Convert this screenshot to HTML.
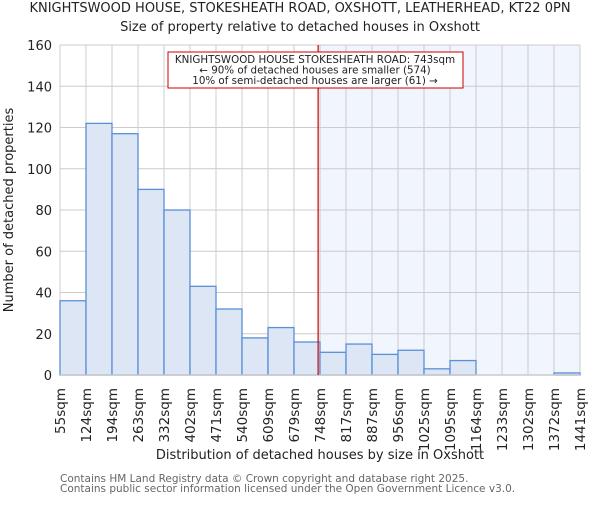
<!DOCTYPE html>
<html><head><meta charset="utf-8"><style>
body{margin:0;background:#fff;}
svg{font-family:"DejaVu Sans","Liberation Sans",sans-serif;}
</style></head><body>
<svg id="chart" width="600" height="500" xmlns="http://www.w3.org/2000/svg">
<text x="300" y="12" font-size="13" text-anchor="middle" fill="#222">KNIGHTSWOOD HOUSE, STOKESHEATH ROAD, OXSHOTT, LEATHERHEAD, KT22 0PN</text>
<text x="300" y="31" font-size="13" text-anchor="middle" fill="#222">Size of property relative to detached houses in Oxshott</text>
<g id="plot"></g>
<text transform="translate(13,210) rotate(-90)" font-size="13" text-anchor="middle" fill="#222">Number of detached properties</text>
<text x="320" y="459" font-size="13" text-anchor="middle" fill="#222">Distribution of detached houses by size in Oxshott</text>
<text x="60" y="482" font-size="10.5" fill="#666">Contains HM Land Registry data © Crown copyright and database right 2025.</text>
<text x="60" y="492" font-size="10.5" fill="#666">Contains public sector information licensed under the Open Government Licence v3.0.</text>
</svg>
<script>
const tickLabels=["55sqm","124sqm","194sqm","263sqm","332sqm","402sqm","471sqm","540sqm","609sqm","679sqm","748sqm","817sqm","887sqm","956sqm","1025sqm","1095sqm","1164sqm","1233sqm","1302sqm","1372sqm","1441sqm"];
const binEdges=[55,124,194,263,332,402,471,540,609,679,748,817,887,956,1025,1095,1164,1233,1302,1372,1441];
const counts=[36,122,117,90,80,43,32,18,23,16,11,15,10,12,3,7,0,0,0,1];
const yTicks=[0,20,40,60,80,100,120,140,160];
const propertySize=743;
const L=60,R=580,T=45,B=375,yMax=160;
const NS="http://www.w3.org/2000/svg";
const g=document.getElementById('plot');
function xIdx(i){return L+(R-L)*i/(binEdges.length-1);}
function xVal(v){for(let i=0;i<binEdges.length-1;i++){if(v<=binEdges[i+1]){return xIdx(i)+(v-binEdges[i])/(binEdges[i+1]-binEdges[i])*(xIdx(i+1)-xIdx(i));}}return R;}
function y(v){return B-(B-T)*v/yMax;}
function mk(t,a){const e=document.createElementNS(NS,t);for(const k in a)e.setAttribute(k,a[k]);g.appendChild(e);return e;}
const px=xVal(propertySize);
let e=mk('rect',{x:px,y:T,width:R-px,height:B-T,fill:'#f1f5fd'});


yTicks.forEach(t=>{
 let l=mk('line',{x1:L,x2:R,y1:y(t),y2:y(t),stroke:'#ccc','stroke-width':1});
 
 
 let tx=mk('text',{x:L-8,y:y(t)+5,'font-size':13,'text-anchor':'end',fill:'#222'});
 tx.textContent=t;
 
 
});
tickLabels.forEach((lab,i)=>{
 let l=mk('line',{x1:xIdx(i),x2:xIdx(i),y1:T,y2:B,stroke:'#ccc','stroke-width':1});
 
 
 let tx=mk('text',{transform:`translate(${xIdx(i)+5},${B+13}) rotate(-90)`,'font-size':13.5,'text-anchor':'end',fill:'#222'});
 tx.textContent=lab;
 
 
});
counts.forEach((c,i)=>{
 if(c<=0)return;
 let r=mk('rect',{x:xIdx(i),y:y(c),width:xIdx(i+1)-xIdx(i),height:B-y(c),fill:'#dce6f4',stroke:'#5b8fd6','stroke-width':1.3});
 
 
});
let ax=mk('line',{x1:L,x2:R,y1:B,y2:B,stroke:'#ccc','stroke-width':1.5});


let rl=mk('line',{x1:px,x2:px,y1:T,y2:B,stroke:'#cc0000','stroke-width':1.2});


let box=mk('rect',{x:168,y:52,width:295,height:36,fill:'#fff',stroke:'#cc0000','stroke-width':1});


["KNIGHTSWOOD HOUSE STOKESHEATH ROAD: 743sqm","← 90% of detached houses are smaller (574)","10% of semi-detached houses are larger (61) →"].forEach((s,i)=>{
 let tx=mk('text',{x:315,y:63+i*10.5,'font-size':10.3,'text-anchor':'middle',fill:'#222'});
 tx.textContent=s;
 
 
});
</script>
</body></html>
